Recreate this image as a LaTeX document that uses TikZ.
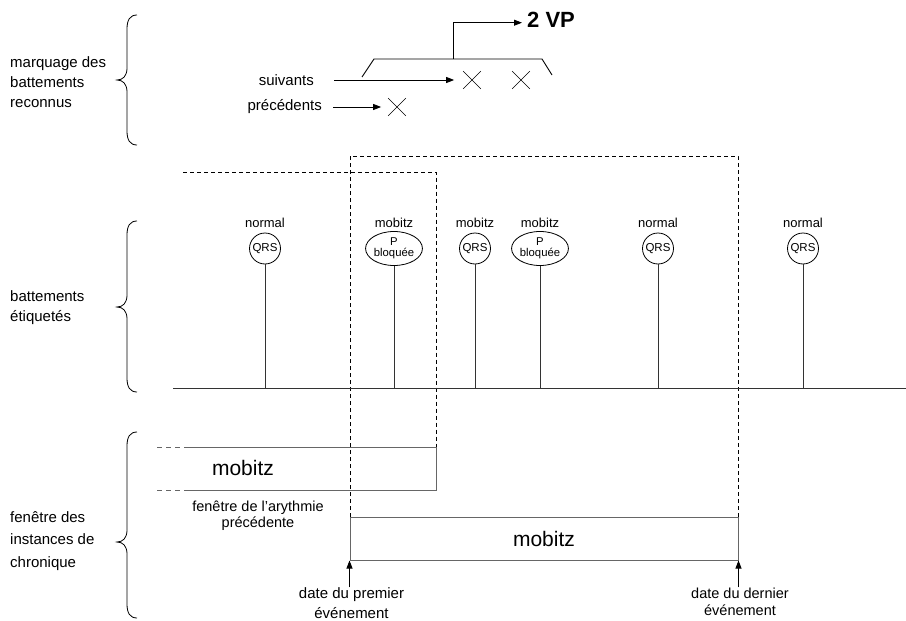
\documentclass[tikz,border=0pt]{standalone}
\usepackage{fontspec}
\setmainfont{Liberation Sans}
\usetikzlibrary{arrows.meta,shapes.geometric,shapes.misc}
\newcommand\drawbrace[3]{%
  \draw[brc] (137,#1) .. controls (130,#1) and (127,#1+5) .. (127,#1+14)
    -- (127,#2-12) .. controls (127,#2-4) and (123,#2) .. (117,#2)
    .. controls (123,#2) and (127,#2+4) .. (127,#2+12)
    -- (127,#3-14) .. controls (127,#3-5) and (130,#3) .. (137,#3);}
\tikzset{
  txt/.style={inner sep=0pt, font=\fontsize{15}{20}\selectfont},
  lab/.style={inner sep=0pt, font=\fontsize{13}{14}\selectfont},
  qrs/.style={circle, draw, line width=0.8pt, minimum size=31pt, inner sep=0pt, font=\fontsize{11.5}{11.5}\selectfont},
  pbl/.style={ellipse, draw, line width=0.8pt, minimum width=50pt, minimum height=34pt, inner sep=0pt, align=center, font=\fontsize{11.3}{10.5}\selectfont},
  stem/.style={line width=0.9pt, draw=black!80},
  arr/.style={-{Triangle[length=8pt,width=6pt]}, line width=0.9pt},
  dsh/.style={dash pattern=on 4pt off 3pt, line width=0.8pt},
  winbox/.style={draw=black!60, line width=1pt},
  brc/.style={line width=0.8pt},
  xmark/.style={cross out, draw, minimum size=17pt, inner sep=0pt, line width=0.7pt},
  big/.style={inner sep=0pt, font=\fontsize{21}{24}\selectfont},
}
\begin{document}
\begin{tikzpicture}[x=1pt,y=-1pt]
\useasboundingbox (0,0) rectangle (906,621);

% left braces and captions
\drawbrace{15}{80}{145}
\drawbrace{221}{307}{392}
\drawbrace{432}{542}{618}
\node[txt, anchor=west, align=left] (c1) at (10,82) {marquage des\\battements\\reconnus};
\node[txt, anchor=west, align=left] (c2) at (10,308) {battements\\étiquetés};
\node[txt, anchor=west, align=left, font=\fontsize{15}{22.5}\selectfont] (c3) at (10,541) {fenêtre des\\instances de\\chronique};

% top part: recognised beats
\node[txt, anchor=east] (suiv) at (314,80) {suivants};
\node[txt, anchor=east] (prec) at (322,107) {précédents};
\node[xmark] (x0) at (397,107) {};
\node[xmark] (x1) at (472,80) {};
\node[xmark] (x2) at (521,80) {};
\draw[arr, shorten >=9pt] ([xshift=20pt]suiv.east) -- (x1.west);
\draw[arr, shorten >=7pt] ([xshift=11pt]prec.east) -- (x0.west);
\draw[line width=0.9pt] (362,77) -- (374,59) -- (542,59) -- (552,75);
\coordinate (brk) at (453,59);
\node[inner sep=0pt, anchor=west, font=\fontsize{22}{24}\selectfont\bfseries] (vp) at (527,20) {2 VP};
\draw[arr, shorten >=5pt] (brk) |- ([yshift=-2.7pt]vp.west);

% dashed windows
\draw[dsh] (350,517) -- (350,156) -- (738,156) -- (738,517);
\draw[dsh] (183,172) -- (436.5,172) -- (436.5,447);

% labelled beats
\coordinate (base0) at (173,388);
\coordinate (base1) at (906,388);
\draw[stem] (base0) -- (base1);

\node[qrs] (b1) at (265,248.5) {QRS};
\node[pbl] (b2) at (394,248.5) {P\\bloquée};
\node[qrs] (b3) at (475,248.5) {QRS};
\node[pbl] (b4) at (540,248.5) {P\\bloquée};
\node[qrs] (b5) at (658,248.5) {QRS};
\node[qrs] (b6) at (803,248.5) {QRS};
\node[lab] (l1) at (265,223) {normal};
\node[lab] (l2) at (394,223) {mobitz};
\node[lab] (l3) at (475,223) {mobitz};
\node[lab] (l4) at (540,223) {mobitz};
\node[lab] (l5) at (658,223) {normal};
\node[lab] (l6) at (803,223) {normal};
\foreach \b in {b1,b2,b3,b4,b5,b6}{
  \draw[stem] (\b.south) -- (\b.south |- base0);
}

% previous arrhythmia window
\draw[winbox] (188,447) -- (436.5,447) -- (436.5,490) -- (188,490);
\draw[winbox, dash pattern=on 5pt off 4pt] (157,447) -- (188,447);
\draw[winbox, dash pattern=on 5pt off 4pt] (157,490) -- (188,490);
\node[big] (pm) at (243,468) {mobitz};
\node[inner sep=0pt, align=center, font=\fontsize{14.5}{16}\selectfont] (pt) at (258,516) {fenêtre de l'arythmie\\précédente};

% current window
\node[winbox, rectangle, minimum width=388pt, minimum height=43pt, inner sep=0pt, font=\fontsize{21}{24}\selectfont] (cur) at (544,538.5) {mobitz};
\node[inner sep=0pt, align=center, font=\fontsize{15}{20}\selectfont] (d1) at (351.5,603) {date du premier\\événement};
\node[inner sep=0pt, align=center, font=\fontsize{14.5}{17}\selectfont] (d2) at (740,601.5) {date du dernier\\événement};
\draw[arr] (cur.south west |- d1.north) -- (cur.south west);
\draw[arr] (cur.south east |- d2.north) -- (cur.south east);
\end{tikzpicture}
\end{document}
